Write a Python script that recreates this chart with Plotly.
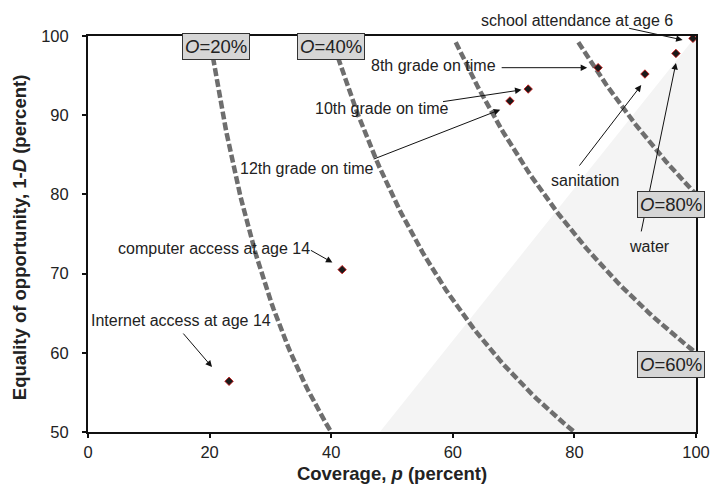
import numpy as np
import plotly.graph_objects as go

# ---- data ----
labels = ["school attendance at age 6", "8th grade on time", "10th grade on time",
          "12th grade on time", "sanitation", "water",
          "computer access at age 14", "Internet access at age 14"]
coverage = [99.5, 83.9, 72.4, 69.4, 91.6, 96.7, 41.8, 23.2]
equality = [99.7, 96.0, 93.3, 91.8, 95.2, 97.8, 70.5, 56.4]

o_levels = [20, 40, 60, 80]
o_label_text = ["<i>O</i>=20%", "<i>O</i>=40%", "<i>O</i>=80%", "<i>O</i>=60%"]

x_ticks = [0, 20, 40, 60, 80, 100]
y_ticks = [50, 60, 70, 80, 90, 100]

FONT = "Liberation Sans, Arial, sans-serif"

fig = go.Figure()

# shaded region (background)
fig.add_shape(type="path", path="M 48 50 L 100 100 L 100 50 Z",
              xref="x", yref="y", fillcolor="#f4f4f4", line=dict(width=0), layer="below")

# iso-opportunity curves: p * (1-D) = O
y_start = {20: 97.3, 40: 97.3, 60: 99.2, 80: 99.2}
for O in o_levels:
    y_end = max(50.0, float(O))
    yy = np.linspace(y_start[O], y_end, 80)
    xx = O * 100.0 / yy
    fig.add_trace(go.Scatter(x=xx, y=yy, mode="lines",
                             line=dict(color="#6e6e6e", width=4.5, dash="8px,3px"),
                             hoverinfo="skip", showlegend=False))

# data points
fig.add_trace(go.Scatter(x=coverage, y=equality, mode="markers", text=labels,
                         marker=dict(symbol="diamond", size=6.5, color="#1a1a1a",
                                     line=dict(color="#d01010", width=0.8)),
                         showlegend=False))

ann_font = dict(family=FONT, size=16, color="#222")

# arrows: head (data) and tail offset (pixels)
arrows = [
    (97.8, 99.5, -55, -12),   # school attendance
    (82.1, 96.0, -87, 0),     # 8th grade
    (71.3, 93.2, -80, 12),    # 10th grade
    (67.8, 90.7, -128, 50),   # 12th grade
    (91.0, 93.8, -63, 82),    # sanitation
    (96.7, 96.6, -35, 170),   # water
    (40.2, 71.4, -23, -13),   # computer
    (20.4, 58.2, -30, -35),   # internet
]
for hx, hy, ax, ay in arrows:
    fig.add_annotation(x=hx, y=hy, ax=ax, ay=ay, xref="x", yref="y",
                       text="", showarrow=True, arrowhead=2, arrowsize=1.3,
                       arrowwidth=1.0, arrowcolor="#111", standoff=0)

# text labels (x, y in data units; first one above the frame)
text_pos = [
    (80.4, 101.9), (56.8, 96.3), (48.4, 90.9), (36.0, 83.3),
    (81.9, 81.7), (92.3, 73.4), (20.7, 73.2), (15.3, 64.1),
]
for lab, (tx, ty) in zip(labels, text_pos):
    fig.add_annotation(x=tx, y=(ty - 50) / 50.0, xref="x", yref="paper", text=lab,
                       xanchor="center", yanchor="middle",
                       showarrow=False, font=ann_font)

# O level boxes
box_pos = [(21.1, 98.7), (40.0, 98.7), (95.9, 78.7), (95.9, 58.5)]
for t, (bx, by) in zip(o_label_text, box_pos):
    fig.add_annotation(x=bx, y=(by - 50) / 50.0, xref="x", yref="paper", text=t, showarrow=False,
                       xanchor="center", yanchor="middle",
                       font=dict(family=FONT, size=18.5, color="#222"),
                       bgcolor="#d6d6d6", bordercolor="#333", borderwidth=1, borderpad=2)

# y axis title
fig.add_annotation(x=-0.1135, y=0.492, xref="paper", yref="paper", textangle=-90,
                   text="<b>Equality of opportunity, 1-<i>D</i> (percent)</b>",
                   xanchor="center", yanchor="middle", showarrow=False,
                   font=dict(family=FONT, size=18.5, color="#222"))

axis_common = dict(showgrid=False, zeroline=False, showline=True, linecolor="#111",
                   linewidth=2, mirror=True, ticks="outside", ticklen=4, tickwidth=1.5,
                   tickcolor="#111", automargin=False,
                   tickfont=dict(family=FONT, size=16.5, color="#222"))

fig.update_xaxes(range=[0, 100], tickvals=x_ticks, **axis_common,
                 title=dict(text="<b>Coverage, <i>p</i> (percent)</b>", standoff=12,
                            font=dict(family=FONT, size=18.5, color="#222")))
fig.update_yaxes(range=[50, 100], tickvals=y_ticks, ticklabelstandoff=10, **axis_common)

fig.update_layout(width=718, height=484, margin=dict(l=88, r=22, t=36, b=52, autoexpand=False),
                  plot_bgcolor="white", paper_bgcolor="white", showlegend=False)

fig.write_html("out.html")
